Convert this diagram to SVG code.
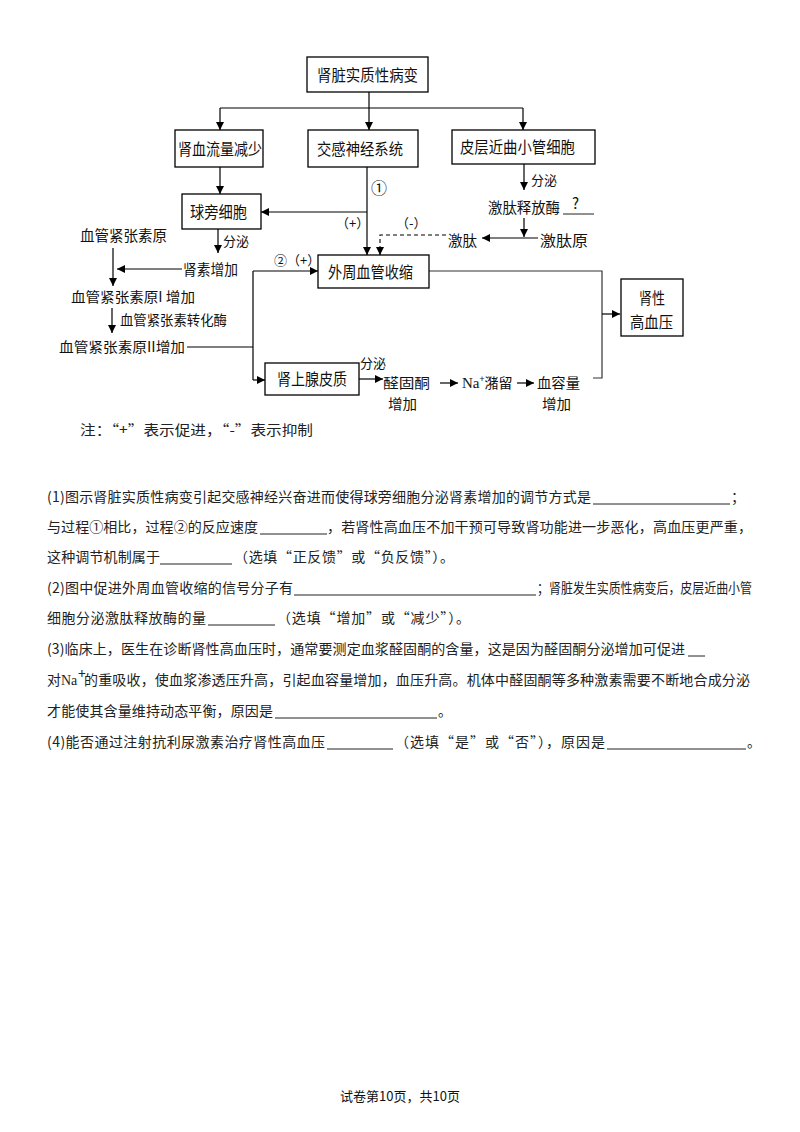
<svg xmlns="http://www.w3.org/2000/svg" width="800" height="1132" viewBox="0 0 800 1132">
<style>
.bg{fill:#fff}
.box{fill:#fff;stroke:#000;stroke-width:1.3}
.ln{fill:none;stroke:#000;stroke-width:1.2}
.dash{fill:none;stroke:#000;stroke-width:1.1;stroke-dasharray:4 3}
.d{font-family:"Noto Sans CJK SC","Noto Sans",sans-serif;font-size:16px;fill:#111}
.f{font-family:"Noto Sans CJK SC","Noto Sans",sans-serif;font-size:15px;fill:#111}
.t{font-family:"Noto Sans CJK SC","Noto Sans",sans-serif;font-size:14px;fill:#111}
.s{font-family:"Noto Sans CJK SC","Noto Sans",sans-serif;font-size:13px;fill:#111}
.q{font-family:"Noto Sans CJK SC","Noto Sans",sans-serif;font-size:14px;fill:#222}
.ul{stroke:#222;stroke-width:1}
.m{text-anchor:middle}
</style>
<defs>
<marker id="ah" viewBox="0 0 10 10" refX="10" refY="5" markerWidth="8" markerHeight="8" markerUnits="userSpaceOnUse" orient="auto">
<path d="M0,0 L10,5 L0,10 z" fill="#000"/>
</marker>
</defs>
<rect class="bg" x="0" y="0" width="800" height="1132"/>

<g id="connectors">
<path class="ln" d="M369,92 V108 M220,108 H523"/>
<path class="ln" d="M220,108 V130" marker-end="url(#ah)"/>
<path class="ln" d="M369,108 V130" marker-end="url(#ah)"/>
<path class="ln" d="M523,108 V130" marker-end="url(#ah)"/>
<path class="ln" d="M220,167 V194" marker-end="url(#ah)"/>
<path class="ln" d="M367,167 V255" marker-end="url(#ah)"/>
<path class="ln" d="M367,212 H261" marker-end="url(#ah)"/>
<path class="dash" d="M446,235 H380 V250"/>
<path class="ln" d="M380,247 V255" marker-end="url(#ah)"/>
<path class="ln" d="M524,163 V190" marker-end="url(#ah)"/>
<path class="ln" d="M524,218 V237" marker-end="url(#ah)"/>
<path class="ln" d="M538,238 H482" marker-end="url(#ah)"/>
<path class="ln" d="M218,229 V253" marker-end="url(#ah)"/>
<path class="ln" d="M182,269 H117" marker-end="url(#ah)"/>
<path class="ln" d="M113,248 V286" marker-end="url(#ah)"/>
<path class="ln" d="M112,308 V333" marker-end="url(#ah)"/>
<path class="ln" d="M187,347 H253 M253,271 V380"/>
<path class="ln" d="M253,271 H318" marker-end="url(#ah)"/>
<path class="ln" d="M253,380 H265" marker-end="url(#ah)"/>
<path class="ln" d="M359,379 H383" marker-end="url(#ah)"/>
<path class="ln" d="M440,383 H458" marker-end="url(#ah)"/>
<path class="ln" d="M517,383 H534" marker-end="url(#ah)"/>
<path class="ln" d="M429,271 H602 V378 H593" style="stroke:#333"/>
<path class="ln" d="M602,314 H620" marker-end="url(#ah)"/>
</g>

<g id="n-top"><rect class="box" x="307" y="57" width="121" height="35"/><text class="d" x="317" y="81" textLength="101" lengthAdjust="spacingAndGlyphs">肾脏实质性病变</text></g>
<g id="n-renal-flow"><rect class="box" x="175" y="130" width="88" height="37"/><text class="d" x="178" y="155" textLength="84" lengthAdjust="spacingAndGlyphs">肾血流量减少</text></g>
<g id="n-sympathetic"><rect class="box" x="308" y="130" width="110" height="37"/><text class="d" x="317" y="155" textLength="86" lengthAdjust="spacingAndGlyphs">交感神经系统</text></g>
<g id="n-tubule"><rect class="box" x="452" y="130" width="143" height="34"/><text class="d" x="460" y="153" textLength="115" lengthAdjust="spacingAndGlyphs">皮层近曲小管细胞</text></g>
<g id="n-jg"><rect class="box" x="182" y="194" width="79" height="35"/><text class="d" x="190" y="218" textLength="57" lengthAdjust="spacingAndGlyphs">球旁细胞</text></g>
<g id="n-vaso"><rect class="box" x="318" y="255" width="111" height="33"/><text class="d" x="328" y="278" textLength="85" lengthAdjust="spacingAndGlyphs">外周血管收缩</text></g>
<g id="n-adrenal"><rect class="box" x="265" y="363" width="94" height="32"/><text class="d" x="277" y="385" textLength="70" lengthAdjust="spacingAndGlyphs">肾上腺皮质</text></g>
<g id="n-htn"><rect class="box" x="621" y="279" width="62" height="57"/><text class="d" x="639" y="304" textLength="26" lengthAdjust="spacingAndGlyphs">肾性</text><text class="d" x="630" y="328" textLength="43" lengthAdjust="spacingAndGlyphs">高血压</text></g>

<g id="n-agt"><text class="f" x="80" y="241" textLength="87" lengthAdjust="spacingAndGlyphs">血管紧张素原</text></g>
<g id="n-renin"><text class="f" x="183" y="275" textLength="55" lengthAdjust="spacingAndGlyphs">肾素增加</text></g>
<g id="n-ang1"><text class="t" x="71" y="302" textLength="124" lengthAdjust="spacingAndGlyphs">血管紧张素原I 增加</text></g>
<g id="n-ace"><text class="t" x="120" y="325" textLength="107" lengthAdjust="spacingAndGlyphs">血管紧张素转化酶</text></g>
<g id="n-ang2"><text class="t" x="59" y="352" textLength="126" lengthAdjust="spacingAndGlyphs">血管紧张素原II增加</text></g>
<g id="n-kallikrein"><text class="f" x="488" y="213" textLength="72" lengthAdjust="spacingAndGlyphs">激肽释放酶</text><text class="f" x="572" y="209">?</text><line class="ul" x1="563" y1="214" x2="594" y2="214"/></g>
<g id="n-kininogen"><text class="f" x="540" y="246" textLength="48" lengthAdjust="spacingAndGlyphs">激肽原</text></g>
<g id="n-kinin"><text class="f" x="448" y="246" textLength="29" lengthAdjust="spacingAndGlyphs">激肽</text></g>
<g id="n-aldo"><text class="t" x="383" y="388" textLength="47" lengthAdjust="spacingAndGlyphs">醛固酮</text><text class="t" x="388" y="409" textLength="29" lengthAdjust="spacingAndGlyphs">增加</text></g>
<g id="n-na"><text class="t" x="462" y="388"><tspan font-family="Liberation Serif,serif" font-size="15">Na</tspan><tspan font-size="9" dy="-6">+</tspan><tspan dy="6">潴留</tspan></text></g>
<g id="n-vol"><text class="t" x="537" y="388" textLength="43" lengthAdjust="spacingAndGlyphs">血容量</text><text class="t" x="542" y="409" textLength="29" lengthAdjust="spacingAndGlyphs">增加</text></g>

<g id="labels">
<text class="s" x="223" y="246">分泌</text>
<text class="s" x="531" y="185">分泌</text>
<text class="s" x="360" y="368">分泌</text>
<text class="d" x="371" y="194">①</text>
<text class="s" x="336" y="228">（+）</text>
<text class="s" x="396" y="228">（-）</text>
<text class="s" x="274" y="265">②（+）</text>
<text class="q" x="80" y="435" textLength="233" lengthAdjust="spacingAndGlyphs">注：“+”表示促进，“-”表示抑制</text>
</g>

<g id="questions">
<text class="q" x="47" y="502" textLength="544">(1)图示肾脏实质性病变引起交感神经兴奋进而使得球旁细胞分泌肾素增加的调节方式是</text>
<line class="ul" x1="593" y1="504" x2="730" y2="504"/>
<text class="q" x="731" y="502">；</text>

<text class="q" x="47" y="532" textLength="211">与过程①相比，过程②的反应速度</text>
<line class="ul" x1="260" y1="534" x2="327" y2="534"/>
<text class="q" x="327" y="532" textLength="425">，若肾性高血压不加干预可导致肾功能进一步恶化，高血压更严重，</text>

<text class="q" x="47" y="562" textLength="113">这种调节机制属于</text>
<line class="ul" x1="160" y1="564" x2="232" y2="564"/>
<text class="q" x="234" y="562" textLength="220">（选填“正反馈”或“负反馈”）。</text>

<text class="q" x="47" y="593" textLength="246">(2)图中促进外周血管收缩的信号分子有</text>
<line class="ul" x1="294" y1="595" x2="536" y2="595"/>
<text class="q" x="537" y="593" textLength="215" lengthAdjust="spacingAndGlyphs">；肾脏发生实质性病变后，皮层近曲小管</text>

<text class="q" x="47" y="623" textLength="159">细胞分泌激肽释放酶的量</text>
<line class="ul" x1="208" y1="625" x2="275" y2="625"/>
<text class="q" x="277" y="623" textLength="193">（选填“增加”或“减少”）。</text>

<text class="q" x="47" y="654" textLength="638">(3)临床上，医生在诊断肾性高血压时，通常要测定血浆醛固酮的含量，这是因为醛固酮分泌增加可促进</text>
<line class="ul" x1="688" y1="656" x2="705" y2="656"/>

<text class="q" x="47" y="685">对<tspan font-family="Liberation Serif,serif">Na</tspan></text>
<text class="q" x="78" y="679" font-size="8">+</text>
<text class="q" x="84" y="685" textLength="666">的重吸收，使血浆渗透压升高，引起血容量增加，血压升高。机体中醛固酮等多种激素需要不断地合成分泌</text>

<text class="q" x="47" y="716" textLength="226">才能使其含量维持动态平衡，原因是</text>
<line class="ul" x1="275" y1="718" x2="437" y2="718"/>
<text class="q" x="438" y="716">。</text>

<text class="q" x="47" y="747" textLength="278">(4)能否通过注射抗利尿激素治疗肾性高血压</text>
<line class="ul" x1="327" y1="749" x2="393" y2="749"/>
<text class="q" x="395" y="747" textLength="210">（选填“是”或“否”），原因是</text>
<line class="ul" x1="607" y1="749" x2="746" y2="749"/>
<text class="q" x="747" y="747">。</text>
</g>

<g id="footer"><text class="s m" x="400" y="1101">试卷第10页，共10页</text></g>
</svg>
